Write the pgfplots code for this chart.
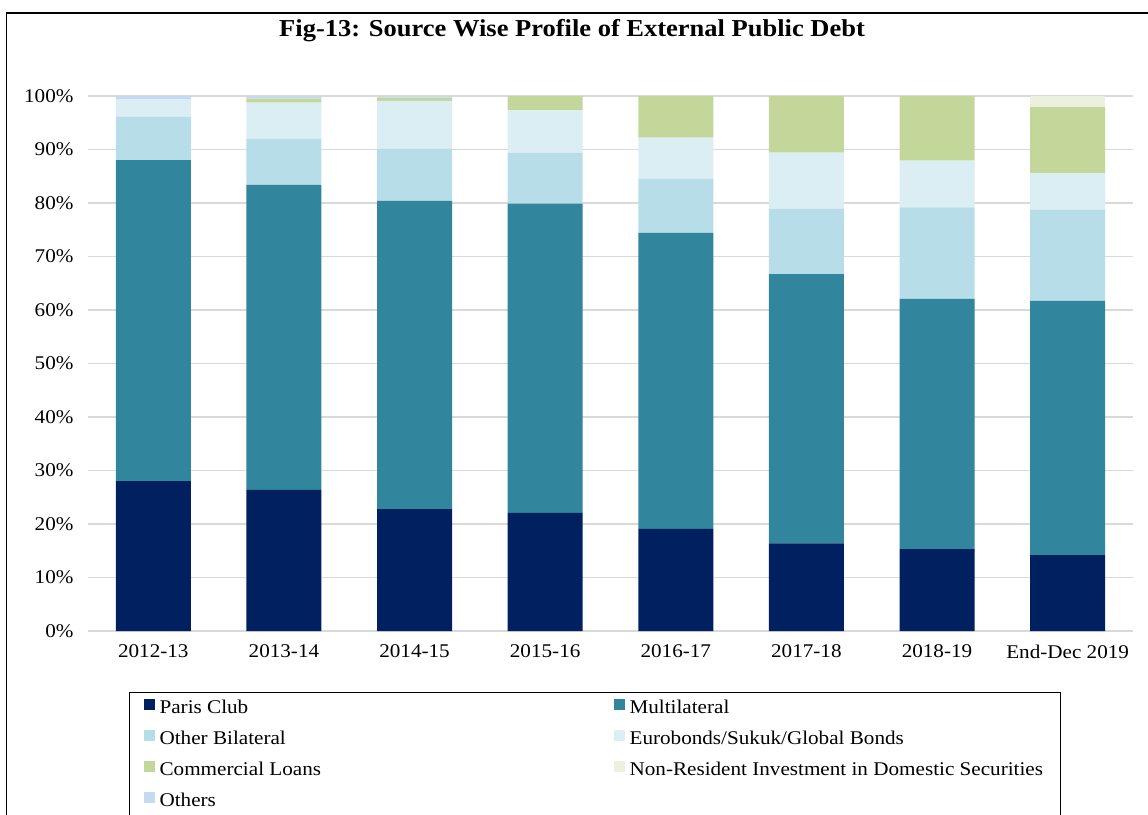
\documentclass[border=0pt]{standalone}
\usepackage{pgfplots}
\pgfplotsset{compat=1.18}
\usepackage{fontspec}
\setmainfont{Liberation Serif}[FakeStretch=1.09]
\definecolor{paris}{RGB}{0,32,96}
\definecolor{multi}{RGB}{49,133,156}
\definecolor{obil}{RGB}{183,222,232}
\definecolor{euro}{RGB}{218,238,243}
\definecolor{comm}{RGB}{196,215,155}
\definecolor{nonres}{RGB}{235,241,222}
\definecolor{others}{RGB}{197,217,241}
\begin{document}
\begin{tikzpicture}[x=1pt,y=1pt]
\path[use as bounding box] (0,0) rectangle (1148,-814);
\draw[line width=1.6pt] (6.5,-820) -- (6.5,-13) -- (1150,-13);
\node[font=\bfseries\fontsize{24.3}{28}\selectfont] at (572,-31) {Fig-13: Source Wise Profile of External Public Debt};
\begin{axis}[
  scale only axis,
  width=1045pt, height=535pt,
  at={(88pt,-631pt)}, anchor=south west,
  ybar stacked, bar width=75pt,
  xmin=-0.5, xmax=7.5, ymin=0, ymax=100,
  xtick={0,1,2,3,4,5,6,7},
  xticklabels={2012-13,2013-14,2014-15,2015-16,2016-17,2017-18,2018-19,End-Dec 2019},
  ytick={0,10,20,30,40,50,60,70,80,90,100},
  yticklabels={0\%,10\%,20\%,30\%,40\%,50\%,60\%,70\%,80\%,90\%,100\%},
  ymajorgrids, grid style={line width=1.5pt, color=black!15},
  axis line style={draw=none},
  major tick length=0pt,
  tick label style={font=\fontsize{19.4}{24}\selectfont},
  xticklabel style={yshift=-10pt},
  yticklabel style={xshift=-11pt},
  legend columns=2,
  legend style={
    at={(axis description cs:0.03923,-0.11402)}, anchor=north west,
    draw=black, line width=1.2pt, fill=white,
    inner xsep=8pt, inner ysep=6pt,
    row sep=11.5pt,
    cells={anchor=west},
    nodes={inner sep=0pt, text width=423pt, align=flush left, text height=14pt, text depth=5pt, font=\fontsize{19.4}{24}\selectfont},
    /tikz/every odd column/.append style={column sep=5pt},
    /tikz/every even column/.append style={column sep=25pt},
  },
  legend image code/.code={\path (-6pt,0pt); \fill[#1,draw=none] (0pt,-1pt) rectangle (11pt,10pt);},
]
\addplot[fill=paris,draw=none] coordinates {(0,28.0) (1,26.4) (2,22.8) (3,22.1) (4,19.1) (5,16.4) (6,15.3) (7,14.2)};
\addplot[fill=multi,draw=none] coordinates {(0,60.0) (1,57.0) (2,57.6) (3,57.8) (4,55.3) (5,50.3) (6,46.8) (7,47.5)};
\addplot[fill=obil,draw=none] coordinates {(0,8.1) (1,8.6) (2,9.7) (3,9.5) (4,10.1) (5,12.2) (6,17.1) (7,17.0)};
\addplot[fill=euro,draw=none] coordinates {(0,3.3) (1,6.75) (2,9.0) (3,7.9) (4,7.7) (5,10.5) (6,8.7) (7,6.9)};
\addplot[fill=comm,draw=none] coordinates {(0,0) (1,0.75) (2,0.6) (3,2.7) (4,7.8) (5,10.6) (6,12.1) (7,12.3)};
\addplot[fill=nonres,draw=none] coordinates {(0,0) (1,0) (2,0) (3,0) (4,0) (5,0) (6,0) (7,2.1)};
\addplot[fill=others,draw=none] coordinates {(0,0.6) (1,0.5) (2,0.3) (3,0) (4,0) (5,0) (6,0) (7,0)};
\legend{Paris Club,Multilateral,Other Bilateral,Eurobonds/Sukuk/Global Bonds,Commercial Loans,Non-Resident Investment in Domestic Securities,Others}
\end{axis}
\end{tikzpicture}
\end{document}
